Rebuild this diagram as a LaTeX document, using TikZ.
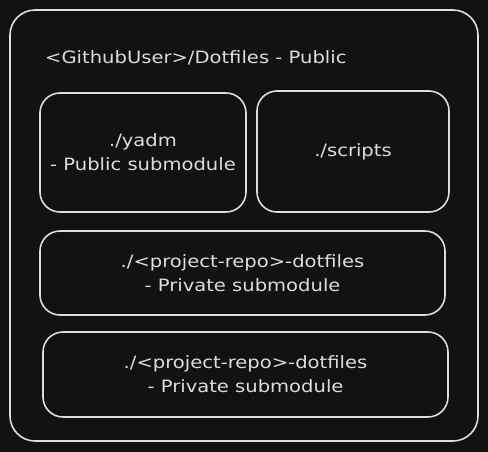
\documentclass[tikz,border=0pt]{standalone}
\usepackage{fontspec}
\setmainfont[FakeStretch=1.15]{DejaVu Sans}
\definecolor{bg}{HTML}{121212}
\definecolor{ink}{HTML}{DDDDDD}
\tikzset{
  box/.style={draw=ink,line width=1.6pt,rounded corners=20pt,inner sep=0pt},
  label/.style={text=ink,font=\fontsize{17}{24}\selectfont,align=center}
}
\begin{document}
\begin{tikzpicture}[x=1pt,y=-1pt]
\fill[bg] (0,0) rectangle (488,452);
\useasboundingbox (0,0) rectangle (488,452);
\draw[box,rounded corners=25pt] (10,10) rectangle (478,441);
\node[label,anchor=west,inner sep=0pt] (title) at (45,58) {<GithubUser>/Dotfiles - Public};
\node[box,minimum width=206pt,minimum height=119pt] (yadm) at (143,152.5) {};
\node[label] at (yadm) {./yadm\\- Public submodule};
\node[box,minimum width=192pt,minimum height=121pt] (scripts) at (353,151.5) {};
\node[label] at (scripts) {./scripts};
\node[box,minimum width=405pt,minimum height=84pt] (projA) at (242.5,273) {};
\node[label] at (projA) {./<project-repo>-dotfiles\\- Private submodule};
\node[box,minimum width=405pt,minimum height=85pt] (projB) at (245.5,374.5) {};
\node[label] at (projB) {./<project-repo>-dotfiles\\- Private submodule};
\end{tikzpicture}
\end{document}
